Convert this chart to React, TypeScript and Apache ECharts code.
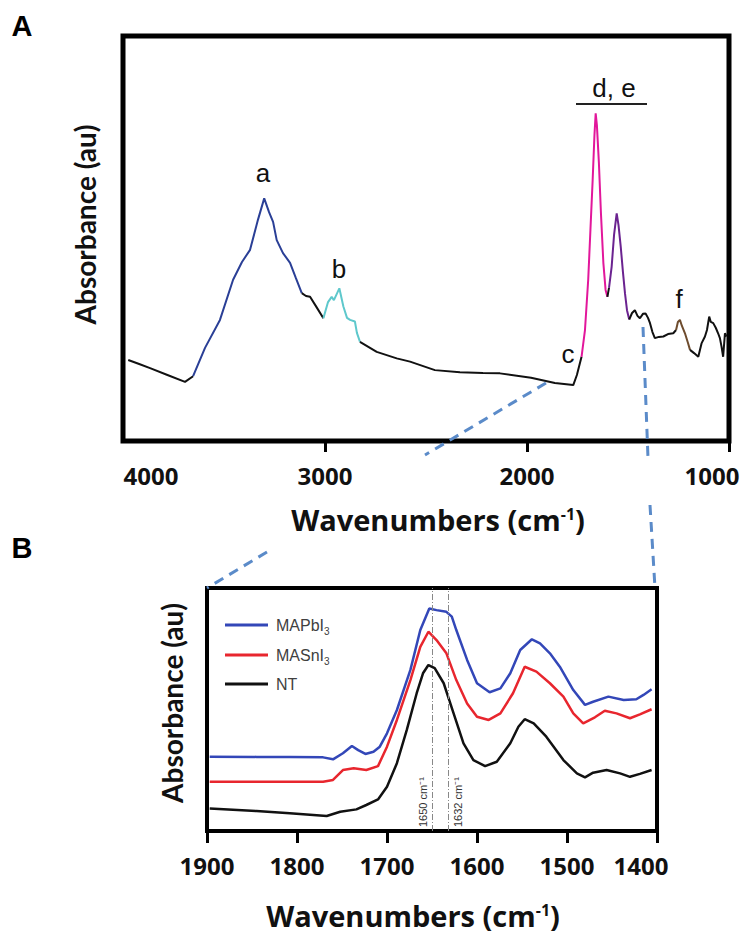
import React, { useEffect, useRef } from "react";
import * as echarts from "echarts";

// ---------- Panel A: full FTIR spectrum (wavenumber, absorbance au) ----------
const baseHighWn = [[3974, 0.2], [3920, 0.19], [3866, 0.18], [3780, 0.163], [3693, 0.146], [3653, 0.16]];
const bandA = [[3653, 0.16], [3594, 0.23], [3520, 0.299], [3455, 0.398], [3411, 0.442], [3371, 0.472], [3332, 0.546], [3301, 0.599], [3277, 0.565], [3257, 0.541], [3239, 0.496], [3208, 0.464], [3173, 0.44], [3144, 0.402], [3115, 0.365]];
const baseMid1 = [[3115, 0.365], [3094, 0.358], [3074, 0.356], [3045, 0.333], [3008, 0.303]];
const bandB = [[3008, 0.303], [2985, 0.343], [2967, 0.356], [2956, 0.348], [2929, 0.377], [2909, 0.332], [2891, 0.304], [2876, 0.299], [2852, 0.295], [2842, 0.267], [2827, 0.245]];
const baseMid2 = [[2827, 0.245], [2744, 0.22], [2645, 0.204], [2579, 0.196], [2456, 0.175], [2332, 0.17], [2218, 0.168], [2134, 0.167], [1980, 0.156], [1862, 0.143], [1771, 0.138], [1753, 0.163], [1730, 0.208]];
const bandD = [[1730, 0.208], [1713, 0.274], [1697, 0.398], [1686, 0.521], [1675, 0.644], [1666, 0.756], [1660, 0.809], [1654, 0.78], [1644, 0.686], [1634, 0.563], [1622, 0.44], [1611, 0.373], [1602, 0.356]];
const valleyDE = [[1602, 0.356], [1594, 0.378]];
const bandE = [[1594, 0.378], [1581, 0.43], [1569, 0.509], [1556, 0.562], [1547, 0.533], [1536, 0.48], [1525, 0.417], [1515, 0.365], [1505, 0.323], [1494, 0.3]];
const baseLow1 = [[1494, 0.3], [1480, 0.316], [1466, 0.323], [1453, 0.309], [1441, 0.303], [1426, 0.314], [1413, 0.315], [1401, 0.304], [1391, 0.291], [1379, 0.269], [1367, 0.254], [1347, 0.257], [1325, 0.258], [1302, 0.264], [1276, 0.266], [1262, 0.274]];
const bandF = [[1262, 0.274], [1253, 0.294], [1243, 0.299], [1233, 0.284], [1218, 0.266], [1203, 0.242], [1193, 0.225]];
const baseLow2 = [[1193, 0.225], [1173, 0.217], [1152, 0.208], [1136, 0.241], [1119, 0.258], [1109, 0.274], [1098, 0.307], [1090, 0.294], [1078, 0.291], [1065, 0.279], [1054, 0.266], [1045, 0.254], [1037, 0.233], [1029, 0.208], [1020, 0.266], [1012, 0.258]];

// ---------- Panel B: zoom 1900-1400 cm-1 ----------
const mapbi3 = [[1897, 0.306], [1845, 0.305], [1808, 0.305], [1771, 0.303], [1760, 0.295], [1749, 0.32], [1739, 0.35], [1732, 0.333], [1724, 0.317], [1715, 0.326], [1708, 0.347], [1700, 0.402], [1689, 0.498], [1674, 0.663], [1663, 0.827], [1653, 0.916], [1645, 0.909], [1634, 0.902], [1628, 0.882], [1623, 0.827], [1611, 0.704], [1600, 0.608], [1586, 0.571], [1574, 0.587], [1563, 0.649], [1552, 0.745], [1539, 0.789], [1530, 0.772], [1519, 0.731], [1508, 0.676], [1493, 0.58], [1480, 0.519], [1471, 0.532], [1454, 0.553], [1437, 0.539], [1423, 0.542], [1415, 0.56], [1406, 0.583]];
const masni3 = [[1897, 0.203], [1845, 0.203], [1771, 0.203], [1760, 0.21], [1749, 0.251], [1737, 0.258], [1723, 0.251], [1710, 0.267], [1700, 0.347], [1689, 0.457], [1674, 0.621], [1663, 0.758], [1654, 0.82], [1645, 0.786], [1634, 0.731], [1623, 0.621], [1611, 0.525], [1600, 0.47], [1587, 0.457], [1574, 0.484], [1560, 0.567], [1547, 0.676], [1534, 0.656], [1519, 0.608], [1504, 0.553], [1493, 0.484], [1482, 0.443], [1469, 0.468], [1458, 0.495], [1445, 0.484], [1430, 0.464], [1419, 0.48], [1406, 0.501]];
const nt = [[1897, 0.093], [1845, 0.082], [1808, 0.073], [1767, 0.062], [1752, 0.079], [1734, 0.089], [1723, 0.107], [1710, 0.13], [1700, 0.182], [1689, 0.279], [1678, 0.416], [1667, 0.567], [1660, 0.649], [1654, 0.683], [1647, 0.67], [1637, 0.608], [1626, 0.484], [1615, 0.361], [1604, 0.292], [1591, 0.267], [1578, 0.285], [1563, 0.361], [1554, 0.429], [1547, 0.46], [1537, 0.443], [1523, 0.388], [1504, 0.292], [1489, 0.237], [1480, 0.221], [1471, 0.24], [1456, 0.251], [1441, 0.237], [1430, 0.223], [1419, 0.235], [1406, 0.251]];
const refLines = [1650, 1632];
const legendNames = ["MAPbI3", "MASnI3", "NT"];

const TICK_FONT = "Open Sans";
const YTITLE_FONT = "Lato";
const TXT = "#111";

export default function App() {
  const ref = useRef<HTMLDivElement>(null);
  useEffect(() => {
    if (!ref.current) return;
    const chart = echarts.init(ref.current, undefined, { renderer: "svg" });
    const labelStyle = { fontFamily: TICK_FONT, fontWeight: "bold", fontSize: 24, color: TXT };
    const nameRich = {
      t: { fontFamily: TICK_FONT, fontWeight: "bold", fontSize: 29, color: TXT },
      s: { fontFamily: TICK_FONT, fontWeight: "bold", fontSize: 16, color: TXT, padding: [0, 0, 12, 0] },
    };
    const seg = (name: string, data: number[][], color: string) => ({
      name, type: "line", xAxisIndex: 0, yAxisIndex: 0, data, showSymbol: false, silent: true,
      color, lineStyle: { color, width: 2 },
    });
    const bseries = (name: string, data: number[][], color: string, extra: any = {}) => ({
      name, type: "line", xAxisIndex: 1, yAxisIndex: 1, data, showSymbol: false, silent: true,
      color, itemStyle: { color }, lineStyle: { color, width: 2.5 }, ...extra,
    });
    const dash = { stroke: "#5b8bc9", lineWidth: 3, lineDash: [10, 7] };
    const annot = (text: string, x: number, y: number) => ({
      type: "text", x, y, z: 50,
      style: { text, fill: "#111", font: "26px 'Liberation Sans'", align: "center", verticalAlign: "middle" },
    });
    chart.setOption({
      animation: false,
      grid: [
        { left: 123, top: 36, width: 606, height: 405, show: true, borderColor: "#000", borderWidth: 5, backgroundColor: "transparent" },
        { left: 207, top: 588, width: 450, height: 243, show: true, borderColor: "#000", borderWidth: 4, backgroundColor: "transparent" },
      ],
      xAxis: [
        {
          gridIndex: 0, type: "value", min: 1000, max: 4000, interval: 1000, inverse: true,
          axisLine: { show: false }, splitLine: { show: false },
          axisTick: { show: true, inside: false, length: 11, customValues: [3000, 2000, 1000], lineStyle: { color: "#000", width: 3 } },
          axisLabel: {
            ...labelStyle, margin: 22,
            formatter: (v: number) => (v === 1000 ? "{r|1000}" : v === 4000 ? "{l|4000}" : String(v)),
            rich: { r: { ...labelStyle, padding: [0, 34, 0, 0] }, l: { ...labelStyle, padding: [0, 0, 0, 56] } },
          },
          name: "{t|Wavenumbers (cm}{s|-1}{t|)}", nameLocation: "middle", nameGap: 64,
          nameTextStyle: { rich: nameRich, padding: [0, 0, 0, 24] },
        },
        {
          gridIndex: 1, type: "value", min: 1400, max: 1900, interval: 100, inverse: true,
          axisLine: { show: false }, splitLine: { show: false },
          axisTick: { show: true, inside: false, length: 12, lineStyle: { color: "#000", width: 3 } },
          axisLabel: {
            ...labelStyle, margin: 22,
            formatter: (v: number) => (v === 1400 ? "{r|1400}" : String(v)),
            rich: { r: { ...labelStyle, padding: [0, 32, 0, 0] } },
          },
          name: "{t|Wavenumbers (cm}{s|-1}{t|)}", nameLocation: "middle", nameGap: 70,
          nameTextStyle: { rich: nameRich, padding: [0, 38, 0, 0] },
        },
      ],
      yAxis: [
        {
          gridIndex: 0, type: "value", min: 0, max: 1,
          axisLine: { show: false }, axisTick: { show: false }, axisLabel: { show: false }, splitLine: { show: false },
          name: "Absorbance (au)", nameLocation: "middle", nameRotate: 90, nameGap: 24,
          nameTextStyle: { fontFamily: YTITLE_FONT, fontWeight: "bold", fontSize: 28, color: TXT, padding: [0, 0, 0, 28] },
        },
        {
          gridIndex: 1, type: "value", min: 0, max: 1,
          axisLine: { show: false }, axisTick: { show: false }, axisLabel: { show: false }, splitLine: { show: false },
          name: "Absorbance (au)", nameLocation: "middle", nameRotate: 90, nameGap: 21,
          nameTextStyle: { fontFamily: YTITLE_FONT, fontWeight: "bold", fontSize: 28, color: TXT, padding: [0, 0, 0, 13] },
        },
      ],
      legend: {
        data: legendNames, orient: "vertical", left: 220, top: 609, itemWidth: 43, itemHeight: 3, icon: "rect",
        itemGap: 8, selectedMode: false,
        formatter: (name: string) => (name === "NT" ? "{n|NT}" : `{n|${name.slice(0, -1)}}{s|3}`),
        textStyle: {
          fontFamily: "Liberation Sans", fontSize: 16, color: "#404040", lineHeight: 20, padding: [0, 0, 0, 3],
          rich: {
            n: { fontFamily: "Liberation Sans", fontSize: 16, color: "#404040", lineHeight: 20 },
            s: { fontFamily: "Liberation Sans", fontSize: 10, color: "#404040", lineHeight: 20, padding: [12, 0, 0, 0] },
          },
        },
      },
      series: [
        seg("base1", baseHighWn, "#111"),
        seg("a", bandA, "#2a3f96"),
        seg("base2", baseMid1, "#111"),
        seg("b", bandB, "#5ec8cc"),
        seg("base3", baseMid2, "#111"),
        seg("d", bandD, "#e2179b"),
        seg("base4", valleyDE, "#111"),
        seg("e", bandE, "#6b2390"),
        seg("base5", baseLow1, "#111"),
        seg("f", bandF, "#6e4c2e"),
        seg("base6", baseLow2, "#111"),
        bseries("MAPbI3", mapbi3, "#3347b8"),
        bseries("MASnI3", masni3, "#e8262e"),
        bseries("NT", nt, "#111", {
          markLine: {
            symbol: "none", silent: true, animation: false,
            lineStyle: { color: "#888", type: [6, 2, 1, 2], width: 1 },
            label: { fontFamily: "Liberation Sans", fontSize: 11, color: "#333", distance: 4 },
            data: [
              { xAxis: refLines[0], label: { position: "insideStartTop", formatter: "1650 cm\u207B\u00B9" } },
              { xAxis: refLines[1], label: { position: "insideStartBottom", formatter: "1632 cm\u207B\u00B9" } },
            ],
          },
        }),
      ],
      graphic: [
        { type: "text", x: 22, y: 26, style: { text: "A", fill: "#000", font: "bold 29px 'Liberation Sans'", align: "center", verticalAlign: "middle" } },
        { type: "text", x: 22, y: 548, style: { text: "B", fill: "#000", font: "bold 29px 'Liberation Sans'", align: "center", verticalAlign: "middle" } },
        annot("a", 263, 173),
        annot("b", 339, 269),
        annot("c", 568, 354),
        annot("f", 679, 299),
        annot("d, e", 614, 88),
        { type: "line", z: 50, shape: { x1: 576, y1: 104, x2: 647, y2: 104 }, style: { stroke: "#222", lineWidth: 2 } },
        { type: "line", z: 60, shape: { x1: 546, y1: 383, x2: 425, y2: 455 }, style: dash },
        { type: "line", z: 60, shape: { x1: 267, y1: 552, x2: 207, y2: 588 }, style: dash },
        { type: "line", z: 60, shape: { x1: 643, y1: 327, x2: 648, y2: 458 }, style: dash },
        { type: "line", z: 60, shape: { x1: 650, y1: 505, x2: 655, y2: 588 }, style: dash },
      ],
    });
    return () => chart.dispose();
  }, []);
  return <div ref={ref} style={{ position: "absolute", left: 0, top: 0, width: 754, height: 950 }} />;
}
